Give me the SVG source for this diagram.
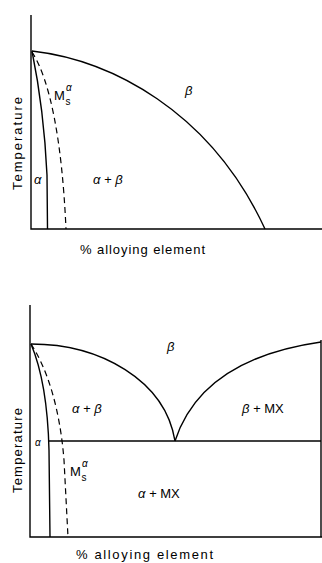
<svg xmlns="http://www.w3.org/2000/svg" width="322" height="563" viewBox="0 0 322 563">
<style>
.ax{stroke:#000;stroke-width:1.4;fill:none}
.ln{stroke:#000;stroke-width:1.4;fill:none}
.ds{stroke:#000;stroke-width:1.2;fill:none;stroke-dasharray:6,4}
text{font-family:"Liberation Sans",Arial,sans-serif;fill:#000}
.lb{font-size:13px}
.gr{font-size:13px;font-style:italic}
.up{font-style:normal}
.sm{font-size:10px;font-style:italic}
.sb{font-size:10px}
.ax-t{font-size:13px}
</style>
<rect width="322" height="563" fill="#fff"/>
<g id="top-diagram">
  <g id="top-axes">
    <path class="ax" d="M31,15 L31,229 L322,229"/>
  </g>
  <g id="top-connectors">
    <path class="ln" d="M32,51 C110,60 210,110 265,229"/>
    <path class="ln" d="M32,51 Q44,110 47,175 L47.5,229"/>
    <path class="ds" d="M32,52 C50,80 62,140 66,229"/>
  </g>
  <g id="top-labels">
    <text class="gr" x="185" y="95">β</text>
    <text class="lb" x="54" y="100">M</text>
    <text class="sm" x="66" y="91">α</text>
    <text class="sb" x="65.5" y="105">s</text>
    <text class="gr" x="34" y="184">α</text>
    <text class="gr" x="93" y="184">α + β</text>
    <text class="ax-t" x="80" y="254" textLength="125" lengthAdjust="spacing">% alloying element</text>
    <text class="ax-t" transform="translate(22,190) rotate(-90)" textLength="93" lengthAdjust="spacing">Temperature</text>
  </g>
</g>
<g id="bottom-diagram">
  <g id="bottom-axes">
    <path class="ax" d="M30,305 L30,537 L322,537"/>
    <path class="ax" d="M321,340 L321,537"/>
    <path class="ln" d="M48,441 L321,441"/>
  </g>
  <g id="bottom-connectors">
    <path class="ln" d="M31,344 C100,344 165,380 175,441"/>
    <path class="ln" d="M175,441 C190,395 230,355 321,342"/>
    <path class="ln" d="M31,344 C42,370 48,410 49,450 L50,537"/>
    <path class="ds" d="M31,344 C48,370 60,410 64,460 L68,537"/>
  </g>
  <g id="bottom-labels">
    <text class="gr" x="167" y="351">β</text>
    <text class="gr" x="72" y="413">α + β</text>
    <text class="gr" x="242" y="413">β + <tspan class="up">MX</tspan></text>
    <text class="sm" x="35" y="446">α</text>
    <text class="lb" x="70" y="476">M</text>
    <text class="sm" x="82" y="467">α</text>
    <text class="sb" x="81.5" y="481">s</text>
    <text class="gr" x="138" y="498">α + <tspan class="up">MX</tspan></text>
    <text class="ax-t" x="76" y="559" textLength="137" lengthAdjust="spacing">% alloying element</text>
    <text class="ax-t" transform="translate(22,493) rotate(-90)" textLength="85" lengthAdjust="spacing">Temperature</text>
  </g>
</g>
</svg>
